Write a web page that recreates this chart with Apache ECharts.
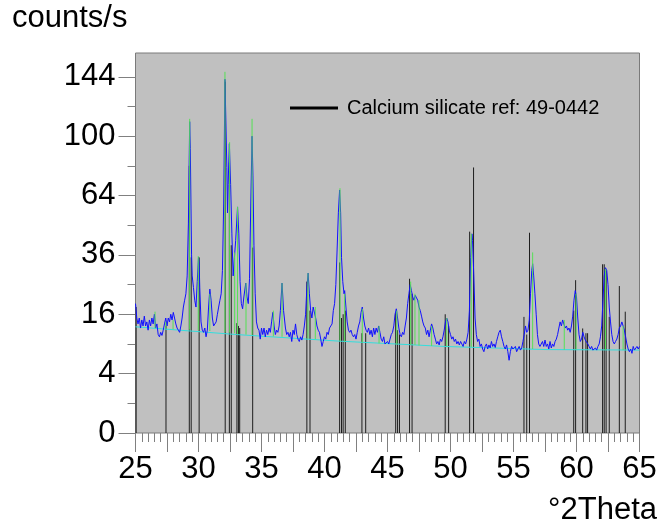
<!DOCTYPE html>
<html>
<head>
<meta charset="utf-8">
<script src="https://cdn.jsdelivr.net/npm/echarts@6/dist/echarts.min.js"></script>
<style>
html,body{margin:0;padding:0;background:#fff}
#echarts{width:662px;height:527px}
</style>
</head>
<body>
<div id="echarts"></div>
<script>
// measured scan: [°2Theta, counts/s]
var scan = [
  [25.00,19],[25.05,17],[25.10,15],[25.2,13.5],[25.3,15],[25.4,12.5],[25.5,14.5],[25.6,13],[25.7,15.5],[25.8,13],
  [25.9,14],[26.0,12],[26.1,14.5],[26.2,13],[26.3,15],[26.4,13.5],[26.5,16],[26.6,12.5],[26.7,13.5],[26.8,11],
  [26.9,10.5],[27.0,11.5],[27.1,10.8],[27.2,12],[27.3,13.5],[27.4,15],[27.5,13],[27.6,15],[27.7,14],[27.8,16],
  [27.9,14.5],[28.0,16.5],[28.1,15],[28.2,13.5],[28.3,12.5],[28.4,12],[28.5,11.5],[28.6,13],[28.7,15],[28.8,18],
  [28.9,20],[29.0,22],[29.1,28],[29.2,50],[29.3,110],[29.35,92],[29.4,60],[29.45,36],[29.5,28],[29.6,24],
  [29.7,20],[29.8,18],[29.9,26],[30.0,35],[30.05,33],[30.1,24],[30.2,14],[30.3,12],[30.4,11.5],[30.5,12.5],
  [30.6,10.5],[30.7,12],[30.8,18],[30.9,23.5],[31.0,20],[31.1,15],[31.2,13],[31.3,12.8],[31.4,14],[31.5,16],
  [31.6,18],[31.7,20],[31.8,22],[31.9,30],[32.0,60],[32.1,142],[32.15,120],[32.25,80],[32.3,55],[32.35,70],
  [32.45,95],[32.55,70],[32.65,45],[32.75,28],[32.85,35],[32.95,42],[33.1,58],[33.2,45],[33.3,26],[33.4,19],
  [33.5,17.5],[33.6,21],[33.75,25.5],[33.85,21],[33.95,19],[34.05,27],[34.15,60],[34.25,100],[34.32,75],[34.4,40],
  [34.5,22],[34.6,14],[34.7,12.5],[34.8,12],[34.9,10],[35.0,12.5],[35.1,11],[35.2,12.5],[35.3,10.5],[35.4,12],
  [35.5,11],[35.6,12.5],[35.7,11.5],[35.8,14],[35.9,16.5],[36.0,13],[36.1,11],[36.2,12],[36.3,11.5],[36.4,13],
  [36.5,17],[36.63,25.5],[36.75,17],[36.9,12.5],[37.0,11],[37.1,11.5],[37.2,10.5],[37.3,11.5],[37.4,9.5],[37.5,12],
  [37.6,11],[37.7,13.5],[37.8,11],[37.9,10],[38.0,9.5],[38.1,10.5],[38.2,9.8],[38.3,11],[38.4,13],[38.5,16],
  [38.6,24],[38.7,29],[38.8,22],[38.9,17],[39.0,15],[39.1,18],[39.2,17.5],[39.3,15],[39.4,13],[39.5,12],
  [39.6,11.5],[39.7,10],[39.8,8.5],[39.9,9.5],[40.0,10.5],[40.1,10],[40.2,11.5],[40.3,11],[40.4,12.5],[40.5,13],
  [40.6,13.5],[40.7,17],[40.8,19],[40.9,25],[41.0,38],[41.1,55],[41.2,67],[41.28,55],[41.35,35],[41.45,26],
  [41.55,22],[41.6,23],[41.7,18],[41.8,14],[41.9,12],[42.0,11.5],[42.1,12],[42.2,11],[42.3,10.5],[42.4,11],
  [42.5,10],[42.6,11.5],[42.7,13],[42.8,14],[42.9,16.5],[43.0,18],[43.1,15],[43.2,13],[43.3,12],[43.4,11.5],
  [43.5,12.5],[43.6,11],[43.7,12],[43.8,10.5],[43.9,12.5],[44.0,11],[44.1,12.5],[44.2,11.5],[44.3,13],[44.4,11.5],
  [44.5,10],[44.6,9.5],[44.7,10.5],[44.8,9],[44.9,8.8],[45.0,9.5],[45.1,9],[45.2,10],[45.3,11],[45.4,11.5],
  [45.5,13],[45.6,16],[45.7,17.5],[45.8,15],[45.9,12.5],[46.0,11],[46.1,10.5],[46.2,11.5],[46.3,11],[46.4,13],
  [46.5,15],[46.6,19],[46.7,22],[46.8,25],[46.9,23],[47.0,21],[47.1,20],[47.2,21.5],[47.3,22],[47.4,20],
  [47.5,18],[47.6,17],[47.7,15.5],[47.8,14],[47.9,13],[48.0,12.5],[48.1,11],[48.2,12],[48.3,10.5],[48.4,12],
  [48.5,13.5],[48.6,12.5],[48.7,11],[48.8,10],[48.9,9],[49.0,9.5],[49.1,8.8],[49.2,10],[49.3,9.5],[49.4,10.5],
  [49.5,12],[49.6,14],[49.7,15],[49.8,14],[49.9,12],[50.0,11],[50.1,10],[50.2,10.5],[50.3,9.5],[50.4,10],
  [50.5,9],[50.6,9.5],[50.7,8.8],[50.8,9.5],[50.9,9],[51.0,8.5],[51.1,9.5],[51.2,9],[51.3,10],[51.4,11.5],
  [51.5,17],[51.6,35],[51.7,45],[51.75,42],[51.85,28],[51.95,15],[52.05,11],[52.15,9.5],[52.25,10],[52.35,8.5],
  [52.45,9],[52.55,8],[52.65,7.5],[52.75,8.5],[52.85,9],[52.95,8],[53.05,8.8],[53.15,8.2],[53.25,9.5],[53.35,8.5],
  [53.45,9],[53.55,8.3],[53.65,9.5],[53.75,10.5],[53.85,11.5],[53.95,12],[54.05,10.5],[54.15,9.5],[54.25,8.5],[54.35,8],
  [54.45,8.8],[54.55,7.5],[54.65,6],[54.75,7.5],[54.85,8.5],[54.95,8],[55.05,7.8],[55.15,8.5],[55.25,7.5],[55.35,8],
  [55.45,8.5],[55.55,7.8],[55.65,8.2],[55.75,9.5],[55.85,11],[55.95,13],[56.05,11.5],[56.15,12],[56.25,14.5],[56.35,22],
  [56.45,30],[56.52,32.5],[56.6,28],[56.7,22],[56.8,16],[56.9,11],[57.0,9],[57.1,8.5],[57.2,8.8],[57.3,9.5],
  [57.4,8.5],[57.5,9.8],[57.6,8.5],[57.7,9],[57.8,8],[57.9,9.5],[58.0,8.2],[58.1,9],[58.2,8.5],[58.3,9.5],
  [58.4,10],[58.5,11],[58.6,12.5],[58.7,14],[58.8,13],[58.9,14.5],[59.0,14],[59.1,12.5],[59.2,13],[59.3,12],
  [59.4,12.5],[59.5,11.5],[59.6,13],[59.7,15.5],[59.8,20],[59.9,23],[60.0,21],[60.1,15],[60.2,11],[60.3,9.5],
  [60.4,10],[60.5,11.5],[60.6,10.5],[60.7,9.8],[60.8,9.5],[60.9,9],[61.0,8.5],[61.1,8],[61.2,8.5],[61.3,7.8],
  [61.4,7.5],[61.5,8.2],[61.6,7.8],[61.7,8.5],[61.8,9],[61.9,10.5],[62.0,13],[62.1,20],[62.2,28],[62.3,31],
  [62.4,30],[62.5,25],[62.6,18],[62.7,14],[62.8,11],[62.9,9.5],[63.0,9],[63.1,9.5],[63.2,10],[63.3,11],
  [63.4,12.5],[63.5,13],[63.6,14],[63.7,13],[63.8,12],[63.9,10.5],[64.0,9],[64.1,8],[64.2,7.5],[64.3,8],
  [64.4,7.2],[64.5,8.5],[64.6,7.8],[64.7,7.5],[64.8,8.5],[64.9,8],[65.0,8.5]
];

// fitted background
var bgTheta  = [25, 33, 41, 49.5, 57.5, 65];
var bgCounts = [12.8, 11.0, 9.6, 8.5, 7.9, 7.8];

// found peaks (green markers): position, base, top
var peakTheta = [26.55, 27.4, 27.98, 29.3, 29.98, 30.9, 32.1, 32.47, 32.87, 33.1, 33.77, 34.25, 35.94, 36.63, 38.69, 39.27,
                 41.23, 41.6, 43.0, 44.33, 45.74, 46.84, 47.18, 47.5, 48.5, 49.7, 51.65, 56.52, 59.03, 59.96, 62.3, 63.7];
var peakBase  = [12.5, 12.4, 12.2, 12.1, 12, 11.8, 11.5, 11.4, 11.3, 11.1, 11, 10.9, 10.6, 10.5, 10.1, 10,
                 9.6, 9.5, 9.3, 9.1, 8.9, 8.8, 8.8, 8.7, 8.6, 8.5, 8.4, 8, 7.9, 7.9, 7.8, 7.8];
var peakTop   = [16.7, 14, 14.5, 112, 35.5, 22, 148, 96, 37, 58, 25.5, 112, 17, 25.5, 29, 18,
                 68, 22, 17.5, 13, 17, 26, 22, 20, 13, 15, 45, 37, 14.5, 22, 30.5, 13];

// reference pattern 49-0442
var refName   = 'Calcium silicate ref: 49-0442';
var refTheta  = [25.05, 27.42, 29.27, 29.42, 30.05, 32.12, 32.45, 32.6, 33.05, 33.17, 33.27, 34.3, 38.6, 38.85,
                 41.2, 41.35, 41.48, 41.65, 42.97, 43.27, 45.65, 45.8, 45.95, 46.75, 46.95, 49.58, 49.85, 51.52, 51.83,
                 55.83, 56.05, 56.27, 59.78, 59.93, 60.49, 60.75, 60.88, 62.07, 62.2, 62.35, 62.6, 63.4, 63.87];
var refCounts = [18, 13, 81, 35, 35, 140, 83, 40, 13.7, 13, 12.5, 39, 26, 17,
                 33, 15, 16, 17, 11.3, 11.3, 16.3, 12, 11, 27, 22, 16, 13, 46, 80,
                 15.3, 11, 45.5, 17, 26.5, 12.4, 11.3, 11.3, 32.3, 32.3, 30, 15.3, 24.5, 16.7];

// axis ticks (counts/s on a square-root scale)
var yMajor = [0, 4, 16, 36, 64, 100, 144];
var yMinor = [1, 9, 25, 49, 81, 121];
var xMin = 25, xMax = 65, xStep = 2.5, xLabelStep = 5;

var font = 'Liberation Sans, Arial, sans-serif';
var sq = function(v){ return Math.sqrt(v); };

function stickRender(color){
    return function(params, api){
        var x = api.value(0);
        var p0 = api.coord([x, api.value(1)]);
        var p1 = api.coord([x, api.value(2)]);
        return {
            type: 'line',
            shape: {x1: p0[0], y1: p0[1], x2: p1[0], y2: p1[1]},
            style: {stroke: color, lineWidth: 1}
        };
    };
}

var refData = refTheta.map(function(t, i){ return [t, 0, sq(refCounts[i])]; });
var peakData = peakTheta.map(function(t, i){ return [t, sq(peakBase[i]), sq(peakTop[i])]; });
var bgData = bgTheta.map(function(t, i){ return [t, sq(bgCounts[i])]; });
var scanData = scan.map(function(p){ return [p[0], sq(p[1])]; });

var option = {
    animation: false,
    backgroundColor: '#fff',
    grid: {
        left: 135.5, top: 53, width: 504, height: 380,
        show: true, backgroundColor: '#c0c0c0', borderColor: '#7a7a7a', borderWidth: 1
    },
    legend: {
        data: [{name: refName, icon: 'rect', itemStyle: {color: '#000'}}],
        left: 285, top: 93,
        itemWidth: 48, itemHeight: 3,
        selectedMode: false,
        textStyle: {fontSize: 20, color: '#000', fontFamily: font, padding: [0, 0, 0, 4]}
    },
    xAxis: {
        type: 'value', min: xMin, max: xMax, interval: xStep,
        splitLine: {show: false},
        axisLine: {show: false},
        axisTick: {show: true, length: 19, inside: false, lineStyle: {color: '#808080'}},
        minorTick: {show: true, splitNumber: 5, length: 9, lineStyle: {color: '#808080'}},
        axisLabel: {
            margin: 21, fontSize: 31, color: '#000', fontFamily: font,
            formatter: function(v){ return (v - xMin) % xLabelStep === 0 ? String(v) : ''; }
        }
    },
    yAxis: [{
        type: 'value', min: 0, max: 12.8,
        splitLine: {show: false},
        axisLine: {show: false},
        axisTick: {show: true, length: 17, customValues: yMajor.map(sq), lineStyle: {color: '#808080'}},
        axisLabel: {
            margin: 20, fontSize: 31, color: '#000', fontFamily: font,
            customValues: yMajor.map(sq),
            formatter: function(v){ return String(Math.round(v * v)); }
        }
    }, {
        type: 'value', min: 0, max: 12.8, position: 'left',
        splitLine: {show: false},
        axisLine: {show: false},
        axisTick: {show: true, length: 8, customValues: yMinor.map(sq), lineStyle: {color: '#808080'}},
        axisLabel: {show: false}
    }],
    graphic: [
        {type: 'text', left: 12, top: 3, style: {text: 'counts/s', fontSize: 31, fontFamily: font, fill: '#000'}},
        {type: 'text', right: 5, top: 495, style: {text: '°2Theta', fontSize: 31, fontFamily: font, fill: '#000'}}
    ],
    series: [{
        name: refName, type: 'custom', data: refData,
        encode: {x: 0, y: [1, 2]},
        itemStyle: {color: '#000'},
        renderItem: stickRender('#1e1e1e'), z: 1
    }, {
        name: 'background', type: 'line', data: bgData,
        showSymbol: false, lineStyle: {color: '#33dddd', width: 1}, z: 2
    }, {
        name: 'scan', type: 'line', data: scanData,
        showSymbol: false, lineStyle: {color: '#1010ff', width: 1}, z: 3
    }, {
        name: 'peaks', type: 'custom', data: peakData,
        encode: {x: 0, y: [1, 2]},
        renderItem: stickRender('#55e055'), z: 4
    }]
};

var myChart = echarts.init(document.getElementById('echarts'));
myChart.setOption(option);
</script>
</body>
</html>
